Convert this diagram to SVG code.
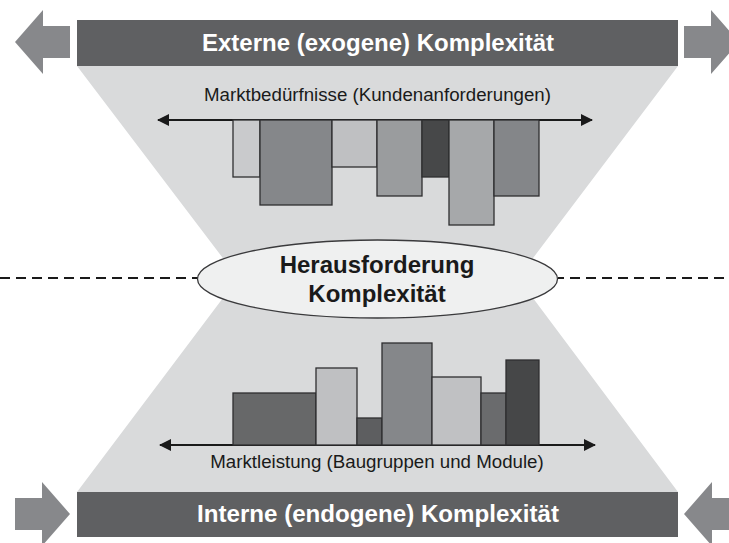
<svg xmlns="http://www.w3.org/2000/svg" width="729" height="543" viewBox="0 0 729 543">
<defs>
<marker id="ah" viewBox="0 0 12 12" refX="11" refY="6" markerWidth="12" markerHeight="12" markerUnits="userSpaceOnUse" orient="auto-start-reverse">
<path d="M0,0 L12,6 L0,12 Z" fill="#1a1a1a"/>
</marker>
</defs>
<style>
.banner{fill:#5f6062}
.bigarrow{fill:#87888b}
.bar{stroke:#2e2e30;stroke-width:1.3}
.axis{stroke:#1a1a1a;stroke-width:2.2;fill:none}
.btxt{font-family:"Liberation Sans",Arial,sans-serif;font-weight:bold;font-size:23.5px;fill:#ffffff;text-anchor:middle}
.lbl{font-family:"Liberation Sans",Arial,sans-serif;font-size:18.7px;fill:#1a1a1a;text-anchor:middle}
.etxt{font-family:"Liberation Sans",Arial,sans-serif;font-weight:bold;font-size:24px;fill:#1a1a1a;text-anchor:middle}
</style>
<rect width="729" height="543" fill="#ffffff"/>
<g id="hourglass">
<polygon points="77,66 678,66 518,278 678,492 77,492 238,278" fill="#d9dadb"/>
</g>
<g id="connectors">
<line x1="0" y1="278" x2="198" y2="278" stroke="#1a1a1a" stroke-width="2" stroke-dasharray="10,6"/>
<line x1="558" y1="278" x2="729" y2="278" stroke="#1a1a1a" stroke-width="2" stroke-dasharray="10,6" stroke-dashoffset="4"/>
<line class="axis" x1="158" y1="120" x2="592" y2="120" marker-start="url(#ah)" marker-end="url(#ah)"/>
<line class="axis" x1="160" y1="445" x2="595" y2="445" marker-start="url(#ah)" marker-end="url(#ah)"/>
</g>
<g id="external-banner">
<rect class="banner" x="77" y="20" width="601" height="46"/>
<text class="btxt" x="378" y="51" textLength="352" lengthAdjust="spacingAndGlyphs">Externe (exogene) Komplexität</text>
</g>
<g id="arrow-top-left">
<polygon class="bigarrow" points="15,42 43,10 43,26 70,26 70,58 43,58 43,74"/>
</g>
<g id="arrow-top-right">
<polygon class="bigarrow" points="739,42 711,10 711,26 684,26 684,58 711,58 711,74"/>
</g>
<g id="internal-banner">
<rect class="banner" x="77" y="492" width="601" height="45"/>
<text class="btxt" x="378" y="522" textLength="362" lengthAdjust="spacingAndGlyphs">Interne (endogene) Komplexität</text>
</g>
<g id="arrow-bottom-left">
<polygon class="bigarrow" points="70,514 42,482 42,498 15,498 15,530 42,530 42,546"/>
</g>
<g id="arrow-bottom-right">
<polygon class="bigarrow" points="684,514 712,482 712,498 739,498 739,530 712,530 712,546"/>
</g>
<g id="market-needs">
<text class="lbl" x="377.5" y="101">Marktbedürfnisse (Kundenanforderungen)</text>
<rect class="bar" x="233" y="120" width="27" height="57" fill="#c9cacc"/>
<rect class="bar" x="260" y="120" width="72" height="85" fill="#85878a"/>
<rect class="bar" x="332" y="120" width="45" height="47" fill="#bfc0c2"/>
<rect class="bar" x="377" y="120" width="45" height="76" fill="#9a9c9e"/>
<rect class="bar" x="422" y="120" width="27" height="57" fill="#474849"/>
<rect class="bar" x="449" y="120" width="45" height="105" fill="#a6a8aa"/>
<rect class="bar" x="494" y="120" width="45" height="76" fill="#848689"/>
</g>
<g id="market-offer">
<rect class="bar" x="233" y="393" width="83" height="52" fill="#676869"/>
<rect class="bar" x="316" y="368" width="41" height="77" fill="#bfc0c2"/>
<rect class="bar" x="357" y="418" width="25" height="27" fill="#5d5e60"/>
<rect class="bar" x="382" y="343" width="50" height="102" fill="#85878a"/>
<rect class="bar" x="432" y="377" width="49" height="68" fill="#c0c1c3"/>
<rect class="bar" x="481" y="393" width="25" height="52" fill="#6a6b6d"/>
<rect class="bar" x="506" y="360" width="33" height="85" fill="#464748"/>
<text class="lbl" x="377" y="468">Marktleistung (Baugruppen und Module)</text>
</g>
<g id="challenge">
<ellipse cx="377.5" cy="279" rx="180" ry="39" fill="#eff0f0" stroke="#3a3a3c" stroke-width="1.3"/>
<text class="etxt" x="377" y="273">Herausforderung</text>
<text class="etxt" x="377" y="302">Komplexität</text>
</g>
</svg>
